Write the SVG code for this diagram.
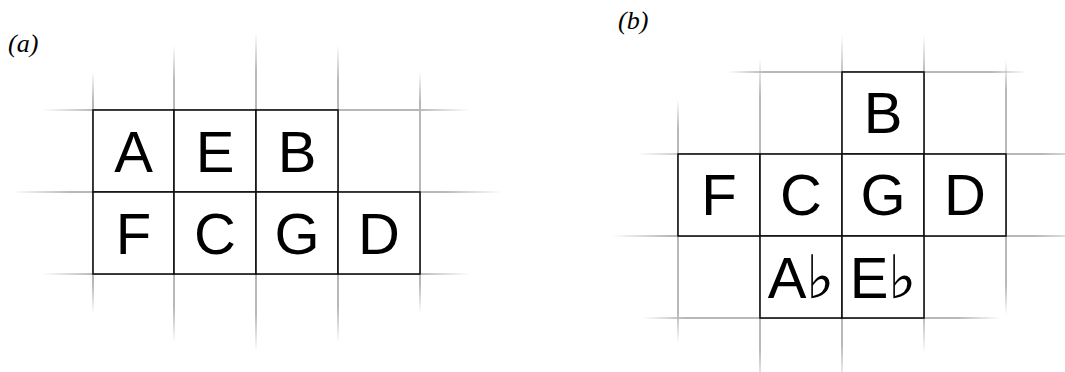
<svg xmlns="http://www.w3.org/2000/svg" width="1065" height="372" viewBox="0 0 1065 372">
<defs>
<linearGradient id="gv" x1="0" y1="0" x2="0" y2="1">
<stop offset="0" stop-color="#b8b8b8" stop-opacity="0"/>
<stop offset="0.12" stop-color="#b8b8b8" stop-opacity="1"/>
<stop offset="0.88" stop-color="#b8b8b8" stop-opacity="1"/>
<stop offset="1" stop-color="#b8b8b8" stop-opacity="0"/>
</linearGradient>
<linearGradient id="gh" x1="0" y1="0" x2="1" y2="0">
<stop offset="0" stop-color="#b8b8b8" stop-opacity="0"/>
<stop offset="0.12" stop-color="#b8b8b8" stop-opacity="1"/>
<stop offset="0.88" stop-color="#b8b8b8" stop-opacity="1"/>
<stop offset="1" stop-color="#b8b8b8" stop-opacity="0"/>
</linearGradient>
</defs>
<style>
.v{fill:url(#gv)}
.h{fill:url(#gh)}
.cell{fill:#fff;stroke:#111;stroke-width:1.6}
.lbl{font-family:"Liberation Sans",Arial,sans-serif;font-size:58px;fill:#000;text-anchor:middle}
.flat{font-family:"DejaVu Sans",sans-serif;font-size:60px;font-weight:200;fill:#000}
.cap{font-family:"Liberation Serif","Times New Roman",serif;font-style:italic;font-size:26px;fill:#000}
</style>
<rect width="1065" height="372" fill="#fff"/>
<text class="cap" x="8" y="52">(a)</text>
<text class="cap" x="618" y="29">(b)</text>
<g id="grid-a">
<rect class="v" x="92" y="72" width="2" height="241"/>
<rect class="v" x="173" y="45" width="2" height="298"/>
<rect class="v" x="255" y="33" width="2" height="319"/>
<rect class="v" x="337" y="45" width="2" height="298"/>
<rect class="v" x="419" y="72" width="2" height="241"/>
<rect class="h" x="42" y="109" width="428" height="2"/>
<rect class="h" x="12" y="191" width="490" height="2"/>
<rect class="h" x="42" y="273" width="428" height="2"/>
</g>
<g id="grid-b">
<rect class="v" x="677" y="100" width="2" height="243"/>
<rect class="v" x="759" y="58" width="2" height="330"/>
<rect class="v" x="841" y="35" width="2" height="350"/>
<rect class="v" x="923" y="35" width="2" height="318"/>
<rect class="v" x="1005" y="60" width="2" height="255"/>
<rect class="h" x="728" y="71" width="299" height="2"/>
<rect class="h" x="637" y="153" width="460" height="2"/>
<rect class="h" x="612" y="235" width="480" height="2"/>
<rect class="h" x="643" y="317" width="357" height="2"/>
</g>
<g id="a-A"><rect class="cell" x="93" y="110" width="81" height="82"/><text class="lbl" x="133.5" y="171.5">A</text></g>
<g id="a-E"><rect class="cell" x="174" y="110" width="82" height="82"/><text class="lbl" x="215" y="171.5">E</text></g>
<g id="a-B"><rect class="cell" x="256" y="110" width="82" height="82"/><text class="lbl" x="297" y="171.5">B</text></g>
<g id="a-F"><rect class="cell" x="93" y="192" width="81" height="82"/><text class="lbl" x="133.5" y="253.5">F</text></g>
<g id="a-C"><rect class="cell" x="174" y="192" width="82" height="82"/><text class="lbl" x="215" y="253.5">C</text></g>
<g id="a-G"><rect class="cell" x="256" y="192" width="82" height="82"/><text class="lbl" x="297" y="253.5">G</text></g>
<g id="a-D"><rect class="cell" x="338" y="192" width="82" height="82"/><text class="lbl" x="379" y="253.5">D</text></g>
<g id="b-B"><rect class="cell" x="842" y="72" width="82" height="82"/><text class="lbl" x="883" y="133">B</text></g>
<g id="b-F"><rect class="cell" x="678" y="154" width="82" height="82"/><text class="lbl" x="719" y="215">F</text></g>
<g id="b-C"><rect class="cell" x="760" y="154" width="82" height="82"/><text class="lbl" x="801" y="215">C</text></g>
<g id="b-G"><rect class="cell" x="842" y="154" width="82" height="82"/><text class="lbl" x="883" y="215">G</text></g>
<g id="b-D"><rect class="cell" x="924" y="154" width="82" height="82"/><text class="lbl" x="965" y="215">D</text></g>
<g id="b-Ab"><rect class="cell" x="760" y="236" width="82" height="82"/><text class="lbl" x="801" y="298">A<tspan class="flat">♭</tspan></text></g>
<g id="b-Eb"><rect class="cell" x="842" y="236" width="82" height="82"/><text class="lbl" x="883" y="298">E<tspan class="flat">♭</tspan></text></g>
</svg>
